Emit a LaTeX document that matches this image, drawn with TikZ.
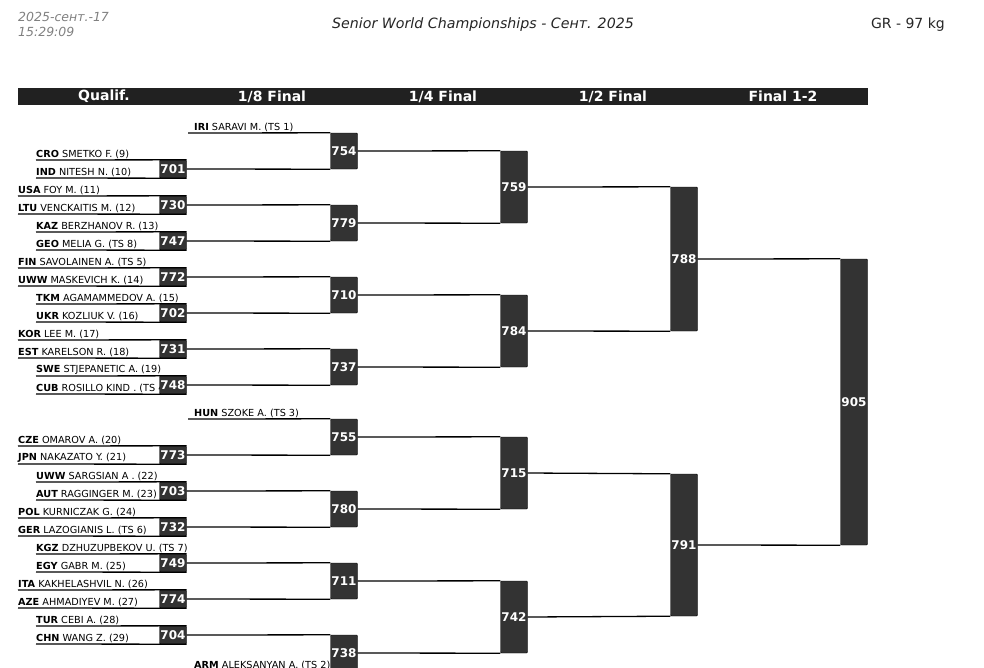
\documentclass[tikz,border=0pt]{standalone}
\usepackage{fontspec}
\setmainfont{DejaVu Sans}
\begin{document}
\begin{tikzpicture}[
    x=1pt, y=-1pt,
    match/.style={draw=black, fill=black!80, text=white, rounded corners=1pt, minimum width=27pt, inner sep=0pt, font=\fontsize{12}{12}\selectfont\bfseries},
    entrant/.style={anchor=south west, inner xsep=0pt, inner ysep=1pt, font=\fontsize{9.7}{10}\selectfont},
    bye/.style={entrant, inner xsep=6pt},
    head/.style={text=white, font=\fontsize{14}{14}\selectfont\bfseries},
    wire/.style={line width=1.3pt}
]
    \useasboundingbox (0,0) rectangle (984,667);
    \clip (0,0) rectangle (984,667);

    % Page header
    \node[anchor=west, inner xsep=0pt, text=gray, font=\fontsize{12.5}{13}\selectfont\itshape] (date) at (18,17) {2025-сент.-17};
    \node[anchor=west, inner xsep=0pt, text=gray, font=\fontsize{12.5}{13}\selectfont\itshape] (time) at (18,32) {15:29:09};
    \node[text=black!85, font=\fontsize{14.2}{15}\selectfont\itshape] (title) at (483,25) {Senior World Championships - Сент. 2025};
    \node[anchor=east, inner xsep=0pt, text=black!85, font=\fontsize{14}{15}\selectfont] (weight) at (945,25) {GR - 97 kg};

    % Round titles bar
    \fill[black!87] (18,88) rectangle (868,105);
    \node[head] (hq) at (104,96.5) {Qualif.};
    \node[head] (h8) at (272,96.5) {1/8 Final};
    \node[head] (h4) at (443,96.5) {1/4 Final};
    \node[head] (h2) at (613,96.5) {1/2 Final};
    \node[head] (hf) at (783,96.5) {Final 1-2};

    % Qualification entrants: middle y / left x / number / top / bottom
    \foreach \y/\x/\n/\a/\b in {
        169/36/701/{\textbf{CRO} SMETKO F. (9)}/{\textbf{IND} NITESH N. (10)},
        205/18/730/{\textbf{USA} FOY M. (11)}/{\textbf{LTU} VENCKAITIS M. (12)},
        241/36/747/{\textbf{KAZ} BERZHANOV R. (13)}/{\textbf{GEO} MELIA G. (TS 8)},
        277/18/772/{\textbf{FIN} SAVOLAINEN A. (TS 5)}/{\textbf{UWW} MASKEVICH K. (14)},
        313/36/702/{\textbf{TKM} AGAMAMMEDOV A. (15)}/{\textbf{UKR} KOZLIUK V. (16)},
        349/18/731/{\textbf{KOR} LEE M. (17)}/{\textbf{EST} KARELSON R. (18)},
        385/36/748/{\textbf{SWE} STJEPANETIC A. (19)}/{\textbf{CUB} ROSILLO KIND . (TS 4)},
        455/18/773/{\textbf{CZE} OMAROV A. (20)}/{\textbf{JPN} NAKAZATO Y. (21)},
        491/36/703/{\textbf{UWW} SARGSIAN A . (22)}/{\textbf{AUT} RAGGINGER M. (23)},
        527/18/732/{\textbf{POL} KURNICZAK G. (24)}/{\textbf{GER} LAZOGIANIS L. (TS 6)},
        563/36/749/{\textbf{KGZ} DZHUZUPBEKOV U. (TS 7)}/{\textbf{EGY} GABR M. (25)},
        599/18/774/{\textbf{ITA} KAKHELASHVIL N. (26)}/{\textbf{AZE} AHMADIYEV M. (27)},
        635/36/704/{\textbf{TUR} CEBI A. (28)}/{\textbf{CHN} WANG Z. (29)}}{
        \node[entrant] (t\n) at (\x,\y-9) {\a};
        \node[entrant] (b\n) at (\x,\y+9) {\b};
        \node[match, minimum height=18pt] (m\n) at (173,\y) {\n};
        \draw[wire] (t\n.south west) -- (m\n.north east);
        \draw[wire] (b\n.south west) -- (m\n.south east);
    }

    % Byes into 1/8 final
    \node[bye] (iri) at (188,133) {\textbf{IRI} SARAVI M. (TS 1)};
    \node[bye] (hun) at (188,419) {\textbf{HUN} SZOKE A. (TS 3)};
    \node[bye] (arm) at (188,671) {\textbf{ARM} ALEKSANYAN A. (TS 2)};

    % 1/8 final
    \node[match, minimum height=36pt] (m754) at (344,151) {754};
    \node[match, minimum height=36pt] (m779) at (344,223) {779};
    \node[match, minimum height=36pt] (m710) at (344,295) {710};
    \node[match, minimum height=36pt] (m737) at (344,367) {737};
    \node[match, minimum height=36pt] (m755) at (344,437) {755};
    \node[match, minimum height=36pt] (m780) at (344,509) {780};
    \node[match, minimum height=36pt] (m711) at (344,581) {711};
    \node[match, minimum height=36pt] (m738) at (344,653) {738};

    % 1/4 final
    \node[match, minimum height=72pt] (m759) at (514,187) {759};
    \node[match, minimum height=72pt] (m784) at (514,331) {784};
    \node[match, minimum height=72pt] (m715) at (514,473) {715};
    \node[match, minimum height=72pt] (m742) at (514,617) {742};

    % 1/2 final
    \node[match, minimum height=144pt] (m788) at (684,259) {788};
    \node[match, minimum height=142pt] (m791) at (684,545) {791};

    % Final
    \node[match, minimum height=286pt] (m905) at (854,402) {905};

    % Connections
    \draw[wire] (iri.south west) -- (m754.north west);
    \draw[wire] (m701.east) -- (m754.south west);
    \draw[wire] (m730.east) -- (m779.north west);
    \draw[wire] (m747.east) -- (m779.south west);
    \draw[wire] (m772.east) -- (m710.north west);
    \draw[wire] (m702.east) -- (m710.south west);
    \draw[wire] (m731.east) -- (m737.north west);
    \draw[wire] (m748.east) -- (m737.south west);
    \draw[wire] (hun.south west) -- (m755.north west);
    \draw[wire] (m773.east) -- (m755.south west);
    \draw[wire] (m703.east) -- (m780.north west);
    \draw[wire] (m732.east) -- (m780.south west);
    \draw[wire] (m749.east) -- (m711.north west);
    \draw[wire] (m774.east) -- (m711.south west);
    \draw[wire] (m704.east) -- (m738.north west);
    \draw[wire] (arm.south west) -- (m738.south west);

    \foreach \a/\b/\c in {754/779/759, 710/737/784, 755/780/715, 711/738/742,
                          759/784/788, 715/742/791, 788/791/905}{
        \draw[wire] (m\a.east) -- (m\c.north west);
        \draw[wire] (m\b.east) -- (m\c.south west);
    }
\end{tikzpicture}
\end{document}
